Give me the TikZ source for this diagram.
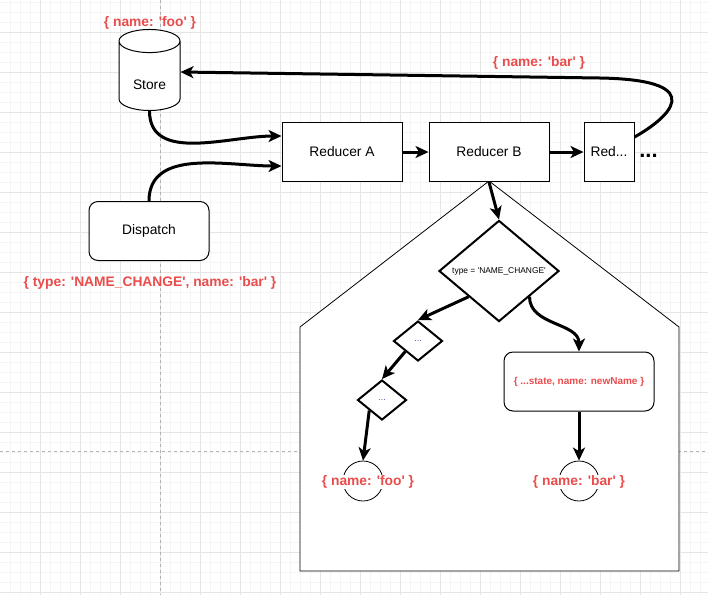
\documentclass[tikz,border=0pt]{standalone}
\usepackage{fontspec}
\setmainfont{Liberation Sans}[Ligatures=TeXOff]
\usetikzlibrary{positioning,shapes.geometric,arrows.meta}
\definecolor{notered}{RGB}{234,76,76}

\begin{document}
\begin{tikzpicture}[x=1pt, y=-1pt, -{Stealth[length=13pt,width=12pt,inset=3.5pt]},
node distance=147pt, on grid, line width=3pt,
minorgrid/.style={-, line width=0.6pt, black!4},
majorgrid/.style={-, line width=0.8pt, black!10},
pagebreak/.style={-, line width=0.8pt, black!30, dash pattern=on 3pt off 3pt},
box/.style={draw, line width=1pt, fill=white, minimum width=120pt,
  minimum height=59pt, font=\fontsize{13.8}{16}\selectfont},
rbox/.style={box, rounded corners=9pt},
store/.style={cylinder, shape border rotate=90, aspect=0.7, draw, fill=white,
  line width=1pt, minimum width=61pt, minimum height=81pt,
  text height=26pt, text depth=0pt, inner sep=0pt,
  font=\fontsize{13.8}{16}\selectfont},
note/.style={text=notered, font=\bfseries\fontsize{13.8}{16}\selectfont, inner sep=1pt},
check/.style={diamond, draw, fill=white, line width=2pt, inner sep=0pt,
  minimum width=120pt, minimum height=98pt, font=\fontsize{8.4}{10}\selectfont},
skip/.style={check, minimum width=49pt, minimum height=40pt,
  text=blue!40!gray, font=\fontsize{9}{10}\selectfont},
result/.style={circle, draw, line width=0.8pt, minimum size=40pt, inner sep=0pt}
]
\useasboundingbox (0,0) rectangle (708,595);
% background grid
\foreach \gx in {10,20,...,700} \draw[minorgrid] (\gx,0) -- (\gx,595);
\foreach \gy in {2,12,...,592} \draw[minorgrid] (0,\gy) -- (708,\gy);
\foreach \gx in {40,80,...,680} \draw[majorgrid] (\gx,0) -- (\gx,595);
\foreach \gy in {32,72,...,592} \draw[majorgrid] (0,\gy) -- (708,\gy);
\draw[pagebreak] (160,0) -- (160,595);
\draw[pagebreak] (0,451) -- (708,451);

% reducer body
\draw[-, line width=0.8pt, fill=white] (489,181) -- (679,327) -- (679,571)
  -- (300,571) -- (300,327) -- cycle;

\node[store] (store) at (149.5,76) {Store};
\node[note] (oldstate) at (150,23) {\{ name: 'foo' \}};
\node[rbox] (dispatch) at (149,231) {Dispatch};
\node[note] (action) at (150,283) {\{ type: 'NAME\_CHANGE', name: 'bar' \}};
\node[box] (ra) at (342,152) {Reducer A};
\node[box] (rb) [right=of ra] {Reducer B};
\node[box, minimum width=50pt] (red) [right=120pt of rb] {Red...};
\node[inner sep=0pt, font=\bfseries\fontsize{22}{24}\selectfont] (more) at (648.5,156) {...};
\node[note] (newstate) at (539,63) {\{ name: 'bar' \}};

\node[check] (cond) at (499,271) {type = 'NAME\_CHANGE'};
\node[skip] (skipa) at (418,341) {...};
\node[skip] (skipb) at (382,400) {...};
\node[rbox, minimum width=150pt, text=notered,
  font=\bfseries\fontsize{10}{12}\selectfont] (spread) at (579,381.5)
  {\{ ...state, name: newName \}};
\node[result] (keep) at (363,481) {};
\node[result] (change) at (579,481) {};
\node[note, fill=white] (keeplbl) at (368,482) {\{ name: 'foo' \}};
\node[note, fill=white] (changelbl) at (579,482) {\{ name: 'bar' \}};

% flow
\draw (store.south) to[out=-90, in=180] ([yshift=16pt]ra.west);
\draw (dispatch.north) to[out=90, in=180] ([yshift=-14pt]ra.west);
\draw (ra) -- (rb);
\draw (rb) -- (red);
\draw ([yshift=15pt]red.east) .. controls (665,120) and (715,80) .. (600,78)
  -- ([yshift=4pt]store.east);
\draw (rb.south) -- (cond.north);
\draw (cond.south west) -- (skipa.north);
\draw (skipa.south west) -- (skipb.north);
\draw (skipb.south west) -- (keep.north);
\draw (cond.south east) to[out=-90, in=90] (spread.north);
\draw (spread) -- (change);
\end{tikzpicture}
\end{document}
